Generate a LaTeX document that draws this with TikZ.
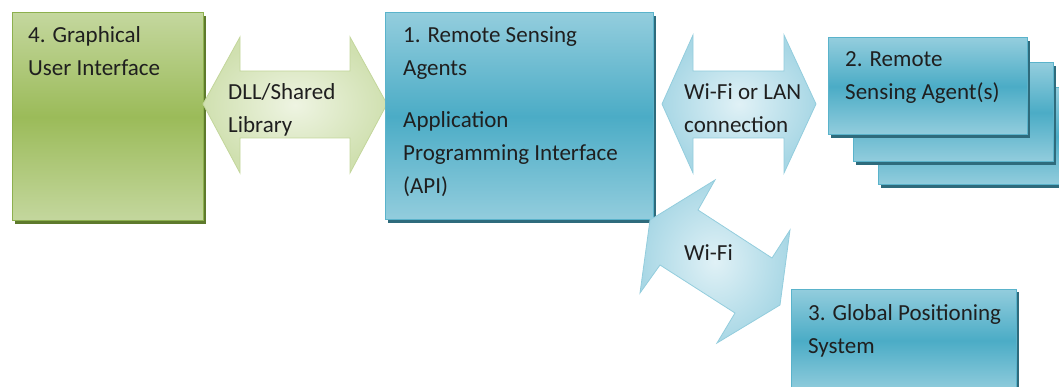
\documentclass[tikz,border=0pt]{standalone}
\usepackage{fontspec}
\setmainfont{Carlito}
\definecolor{gLight}{HTML}{C4D79E}
\definecolor{gMid}{HTML}{9BBB59}
\definecolor{gLine}{HTML}{8DB04E}
\definecolor{gShadow}{HTML}{5E7A2C}
\definecolor{bLight}{HTML}{93CDDD}
\definecolor{bMid}{HTML}{4BACC6}
\definecolor{bLine}{HTML}{5AB3CB}
\definecolor{bShadow}{HTML}{2E6B7C}
\definecolor{gArrEdge}{HTML}{D0E0B0}
\definecolor{gArrIn}{HTML}{EEF4E2}
\definecolor{gArrLine}{HTML}{C3D69B}
\definecolor{bArrEdge}{HTML}{A8D7E5}
\definecolor{bArrIn}{HTML}{E0F1F6}
\definecolor{bArrLine}{HTML}{93CDDD}
\tikzset{
  % anchored at the baseline of the last line
  txt/.style={font=\fontsize{23}{33}\selectfont, text=black!88, inner sep=0pt, anchor=base west, align=left},
  greenbox/.style={draw=gLine, line width=1pt, top color=gLight, bottom color=gLight, middle color=gMid},
  bluebox/.style={draw=bLine, line width=1pt, top color=bLight, bottom color=bLight, middle color=bMid},
  greenshadow/.style={fill=gShadow},
  blueshadow/.style={fill=bShadow},
  greenarrow/.style={draw=gArrLine, line width=0.8pt, inner color=gArrIn, outer color=gArrEdge, line join=miter},
  bluearrow/.style={draw=bArrLine, line width=0.8pt, inner color=bArrIn, outer color=bArrEdge, line join=miter},
}
\begin{document}
\begin{tikzpicture}[x=1pt, y=-1pt]
\useasboundingbox (0,0) rectangle (1059,387);

% 4. Graphical User Interface
\fill[greenshadow] (15,16) rectangle (206,224);
\path[greenbox] (12,13) rectangle (203,221);
\node[txt] (gui) at (28,76) {4. Graphical\\User Interface};

% DLL / shared library double arrow
\path[greenarrow] (203,104) -- (240,37) -- (240,71) -- (350,71) -- (350,37)
  -- (387,104) -- (350,173) -- (350,138) -- (240,138) -- (240,173) -- cycle;
\node[txt] (dll) at (228,133) {DLL/Shared\\Library};

% 1. Remote Sensing Agents API
\fill[blueshadow] (388,16) rectangle (656,223);
\path[bluebox] (385,13) rectangle (653,220);
\node[txt] (api) at (403,76) {1. Remote Sensing\\Agents};
\node[txt] (apitwo) at (403,194) {Application\\Programming Interface\\(API)};

% Wi-Fi or LAN double arrow
\path[bluearrow] (662,104) -- (693,35) -- (693,71) -- (784,71) -- (784,35)
  -- (816,104) -- (784,173) -- (784,138) -- (693,138) -- (693,173) -- cycle;
\node[txt] (lan) at (684,133) {Wi-Fi or LAN\\connection};

% 2. Remote Sensing Agent(s), stacked
\fill[blueshadow] (881,91) rectangle (1068,188);
\path[bluebox] (878,88) rectangle (1065,185);
\fill[blueshadow] (856,66) rectangle (1056,165);
\path[bluebox] (853,63) rectangle (1053,162);
\fill[blueshadow] (831,41) rectangle (1030,138);
\path[bluebox] (828,38) rectangle (1027,135);
\node[txt] (agents) at (845,100) {2. Remote\\Sensing Agent(s)};

% Wi-Fi diagonal double arrow
\path[bluearrow] (650,220) -- (715,180) -- (698,210) -- (772,258) -- (790,230)
  -- (780,305) -- (717,343) -- (735,313) -- (660,265) -- (640,293) -- cycle;
\node[txt] (wifi) at (684,260) {Wi-Fi};

% 3. Global Positioning System
\fill[blueshadow] (794,292) rectangle (1019,395);
\path[bluebox] (791,289) rectangle (1016,392);
\node[txt] (gps) at (808,353) {3. Global Positioning\\System};
\end{tikzpicture}
\end{document}
